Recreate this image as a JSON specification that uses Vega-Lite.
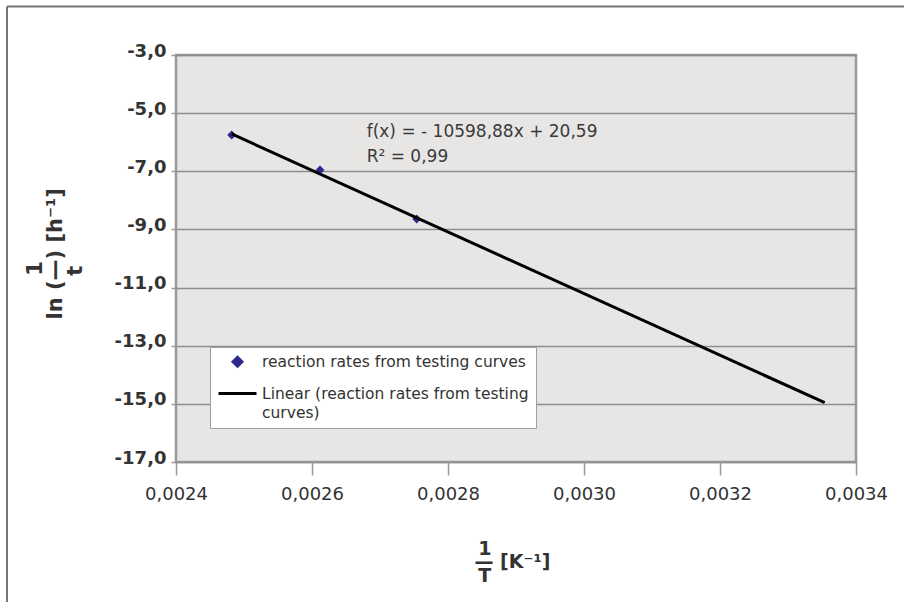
{
  "$schema": "https://vega.github.io/schema/vega-lite/v6.json",
  "width": 680,
  "height": 407,
  "autosize": {"type": "none"},
  "padding": {"left": 176, "top": 55, "right": 48, "bottom": 140},
  "background": "#ffffff",
  "config": {
    "locale": {"number": {"decimal": ",", "thousands": ".", "grouping": [3], "currency": ["", ""], "minus": "-"}},
    "font": "DejaVu Sans",
    "view": {"fill": "#e8e6e5", "stroke": "#9a9a9a", "strokeWidth": 2.5},
    "style": {"guide-label": {"lineHeight": 19}},
    "legend": {
      "title": null, "orient": "bottom-left", "offset": 34,
      "fillColor": "#ffffff", "strokeColor": "#a0a0a0", "padding": 7,
      "labelFont": "DejaVu Sans", "labelFontSize": 15.5, "labelColor": "#333333",
      "labelLimit": 500, "symbolStrokeWidth": 3, "rowPadding": 0
    }
  },
  "datasets": {
    "points": [
      {"invT": 0.0024819, "lnRate": -5.752, "series": "reaction rates from testing curves"},
      {"invT": 0.0026118, "lnRate": -6.956, "series": "reaction rates from testing curves"},
      {"invT": 0.0027540, "lnRate": -8.641, "series": "reaction rates from testing curves"}
    ],
    "trend": [
      {"invT": 0.0024819, "lnRate": -5.715, "series": "Linear (reaction rates from testing curves)"},
      {"invT": 0.0033540, "lnRate": -14.959, "series": "Linear (reaction rates from testing curves)"}
    ]
  },
  "layer": [
    {
      "data": {"name": "points"},
      "mark": {"type": "point", "filled": true, "opacity": 1},
      "encoding": {
        "x": {
          "field": "invT", "type": "quantitative",
          "scale": {"domain": [0.0024, 0.0034], "nice": false, "zero": false},
          "axis": {
            "values": [0.0024, 0.0026, 0.0028, 0.003, 0.0032, 0.0034],
            "format": ".4f", "grid": false, "domain": false,
            "ticks": true, "tickSize": 13, "tickColor": "#999999", "tickWidth": 1.5,
            "labelFont": "DejaVu Sans", "labelFontSize": 18, "labelColor": "#333333",
            "labelPadding": 10, "labelFlush": false, "labelOverlap": false, "labelBound": false,
            "title": ["\u200b\u200a\u200a1", "\u2014 [K\u207b\u00b9]", "\u200b\u200a\u200aT"],
            "titleFont": "DejaVu Sans", "titleFontSize": 19, "titleFontWeight": "bold", "titleColor": "#333333",
            "titleAlign": "left", "titleBaseline": "middle", "titleX": 298, "titleY": 86, "titleLineHeight": 13.5
          }
        },
        "y": {
          "field": "lnRate", "type": "quantitative",
          "scale": {"domain": [-17, -3], "nice": false, "zero": false},
          "axis": {
            "values": [-17, -15, -13, -11, -9, -7, -5, -3],
            "format": ".1f", "grid": true, "gridColor": "#8e8e8e", "gridWidth": 1.6,
            "domain": false, "tickSize": 5, "tickColor": "#999999", "tickWidth": 1.5,
            "labelFont": "DejaVu Sans", "labelFontSize": 18, "labelFontWeight": "bold", "labelColor": "#333333",
            "labelPadding": 5, "labelOffset": -4, "labelOverlap": false, "labelBound": false,
            "title": ["\u200b\u00a0\u00a0\u00a0\u00a0\u00a0\u00a01", "ln (\u2014) [h\u207b\u00b9]", "\u200b\u00a0\u00a0\u00a0\u00a0\u00a0\u00a0t"],
            "titleFont": "DejaVu Sans", "titleFontSize": 21, "titleFontWeight": "bold", "titleColor": "#333333",
            "titleAngle": 270, "titleAlign": "left", "titleBaseline": "middle",
            "titleX": -141, "titleY": 264, "titleLineHeight": 20
          }
        },
        "color": {
          "field": "series", "type": "nominal",
          "scale": {
            "domain": ["reaction rates from testing curves", "Linear (reaction rates from testing curves)"],
            "range": ["#2c2a8c", "#000000"]
          },
          "legend": {
            "labelExpr": "datum.value == 'Linear (reaction rates from testing curves)' ? ['Linear (reaction rates from testing', 'curves)'] : datum.label"
          }
        },
        "shape": {
          "field": "series", "type": "nominal",
          "scale": {
            "domain": ["reaction rates from testing curves", "Linear (reaction rates from testing curves)"],
            "range": ["diamond", "stroke"]
          },
          "legend": {
            "labelExpr": "datum.value == 'Linear (reaction rates from testing curves)' ? ['Linear (reaction rates from testing', 'curves)'] : datum.label"
          }
        },
        "size": {
          "field": "series", "type": "ordinal",
          "scale": {
            "domain": ["reaction rates from testing curves", "Linear (reaction rates from testing curves)"],
            "range": [80, 1444]
          },
          "legend": {
            "labelExpr": "datum.value == 'Linear (reaction rates from testing curves)' ? ['Linear (reaction rates from testing', 'curves)'] : datum.label"
          }
        }
      }
    },
    {
      "data": {"name": "trend"},
      "mark": {"type": "line", "strokeWidth": 3},
      "encoding": {
        "x": {"field": "invT", "type": "quantitative"},
        "y": {"field": "lnRate", "type": "quantitative"},
        "color": {"field": "series", "type": "nominal"}
      }
    },
    {
      "data": {"values": [{}]},
      "mark": {
        "type": "text", "text": ["f(x) = - 10598,88x + 20,59", "R\u00b2 = 0,99"],
        "align": "left", "baseline": "alphabetic", "font": "DejaVu Sans",
        "fontSize": 17, "lineHeight": 25, "color": "#3a3a3a"
      },
      "encoding": {
        "x": {"datum": 0.0026804, "type": "quantitative"},
        "y": {"datum": -5.81, "type": "quantitative"}
      }
    },
    {
      "data": {"values": [{}]},
      "mark": {"type": "rule", "color": "#777777", "strokeWidth": 2},
      "encoding": {
        "x": {"datum": 0.00215147, "type": "quantitative"},
        "y": {"datum": -1.332, "type": "quantitative"},
        "y2": {"datum": -21.92}
      }
    },
    {
      "data": {"values": [{}]},
      "mark": {"type": "rule", "color": "#777777", "strokeWidth": 2},
      "encoding": {
        "y": {"datum": -1.332, "type": "quantitative"},
        "x": {"datum": 0.00215147, "type": "quantitative"},
        "x2": {"datum": 0.0034794}
      }
    }
  ]
}
